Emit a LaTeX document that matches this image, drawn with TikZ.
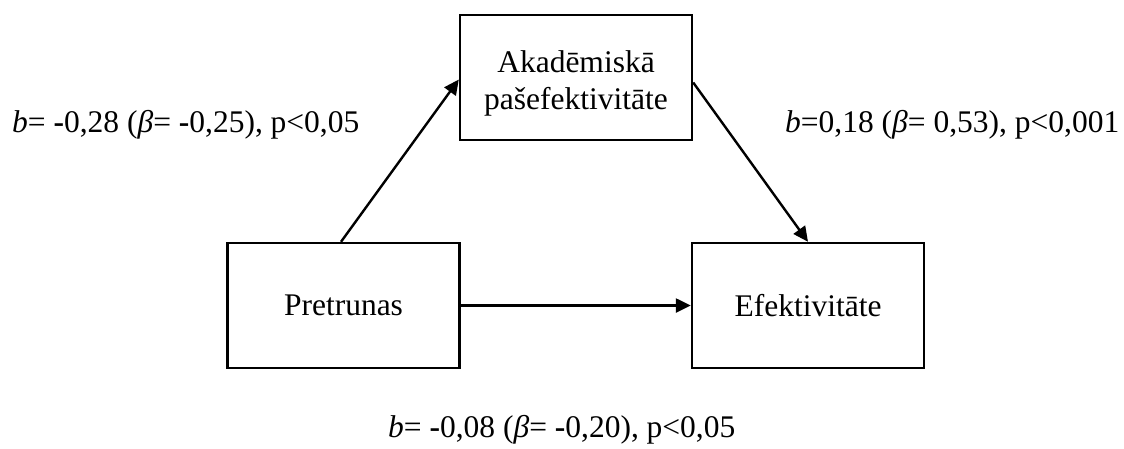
\documentclass[tikz,border=0pt]{standalone}
\usepackage{fontspec}
\setmainfont{Liberation Serif}
\usetikzlibrary{arrows.meta}
\begin{document}
\begin{tikzpicture}[x=1pt,y=-1pt,
  boxnode/.style={draw,line width=2.4pt,minimum width=232pt,minimum height=125pt,inner sep=0pt,align=center,
    font=\fontsize{31.5}{37}\selectfont},
  lbl/.style={anchor=base west,inner sep=0pt,font=\fontsize{31.5}{37}\selectfont},
  conn/.style={line width=2.4pt,-{Triangle[length=15pt,width=14pt]}}]
\useasboundingbox (0,0) rectangle (1124,448);
\node[boxnode] (pre) at (343.5,305.5) {Pretrunas};
\node[boxnode] (ef) at (808,305.5) {Efektivitāte};
\node[boxnode] (ak) at (576,77.5) {\rule{0pt}{34pt}Akadēmiskā\\pašefektivitāte};
\draw[conn] ([xshift=-2.5pt]pre.north) -- ([yshift=-2pt]ak.west);
\draw[conn] ([yshift=-5pt]ak.east) -- (ef.north);
\draw[conn] (pre.east) -- (ef.west);
\node[lbl] (l1) at (12,132) {\textit{b}= \textbf{-}0,28 (\textit{β}= \textbf{-}0,25), p<0,05};
\node[lbl] (l2) at (785,132) {\textit{b}=0,18 (\textit{β}= 0,53), p<0,001};
\node[lbl] (l3) at (388,437) {\textit{b}= \textbf{-}0,08 (\textit{β}= \textbf{-}0,20), p<0,05};
\end{tikzpicture}
\end{document}
